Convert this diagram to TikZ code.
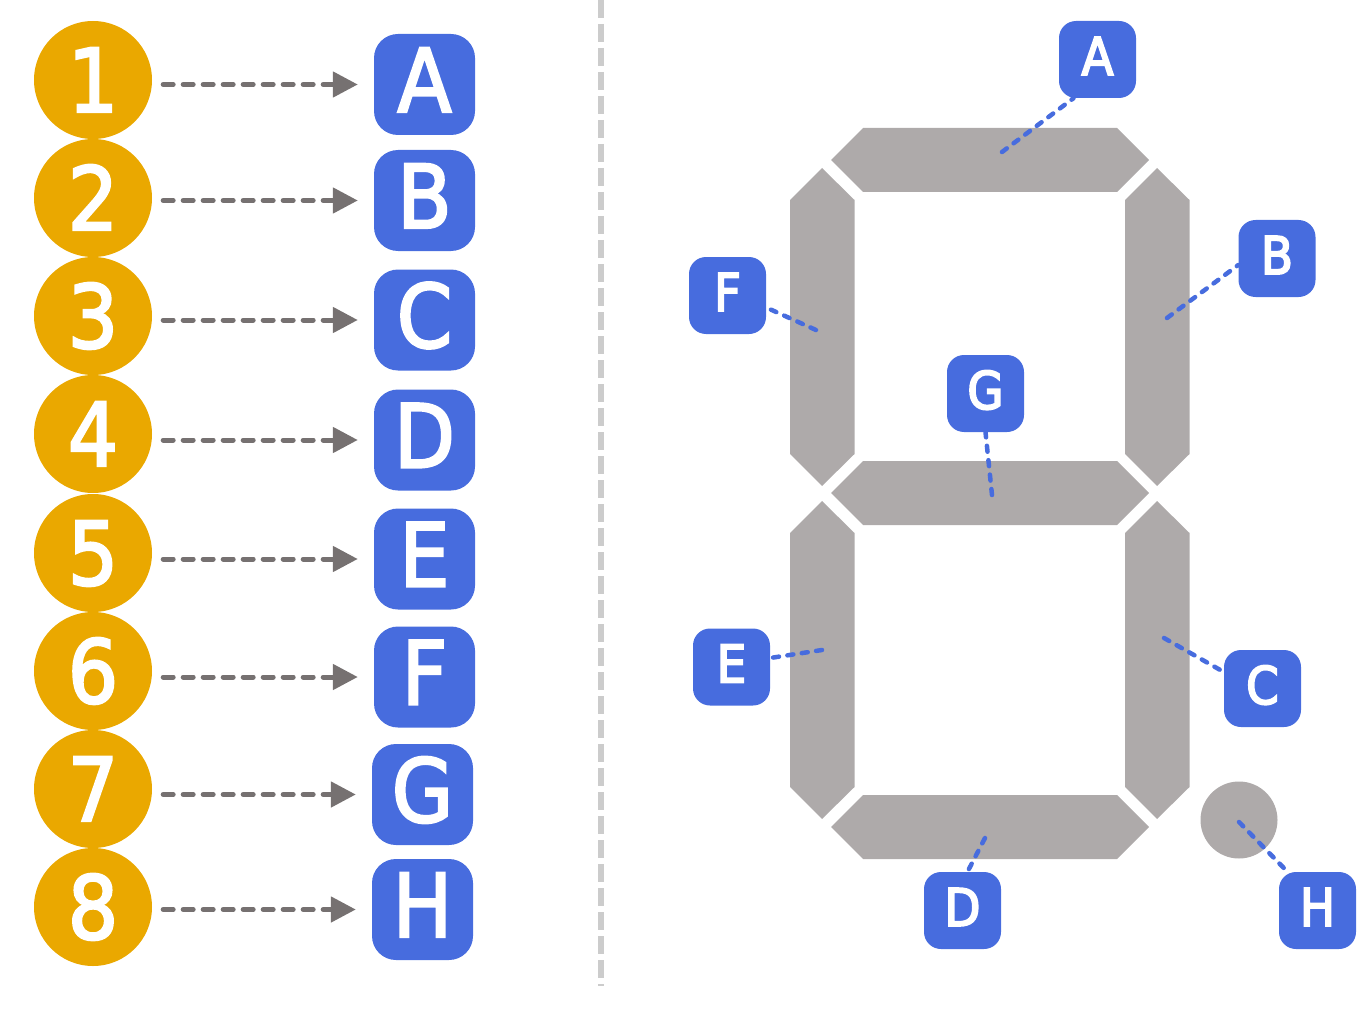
\documentclass[tikz,border=0pt]{standalone}
\usepackage{fontspec}
\newfontfamily\signfont[FakeBold=2.6]{DejaVu Sans Condensed}
\newfontfamily\tagfont[FakeBold=3.4]{DejaVu Sans Condensed}
\usetikzlibrary{arrows.meta}
\definecolor{signorange}{HTML}{EAA800}
\definecolor{signblue}{HTML}{476CDE}
\definecolor{seggray}{HTML}{AEAAAA}
\definecolor{flowgray}{HTML}{767171}
\definecolor{rulegray}{HTML}{CCCCCC}

\begin{document}
\begin{tikzpicture}[x=1pt, y=-1pt]
    \tikzset{num/.style={circle, fill=signorange, text=white, inner sep=0pt, minimum size=118pt,
        text height=64pt, text depth=0pt, font=\signfont\fontsize{88}{88}\selectfont}}
    \tikzset{lab/.style={rectangle, rounded corners=24pt, fill=signblue, text=white, inner sep=0pt,
        minimum width=101pt, minimum height=101pt,
        text height=64pt, text depth=9pt, font=\signfont\fontsize{88}{88}\selectfont}}
    \tikzset{tag/.style={rectangle, rounded corners=17pt, fill=signblue, text=white, inner sep=0pt,
        minimum size=77pt, text height=38pt, text depth=7pt,
        font=\tagfont\fontsize{52}{52}\selectfont}}
    \tikzset{seg/.style={fill=seggray}}
    \tikzset{flow/.style={draw=flowgray, line width=5pt, line cap=round, dash pattern=on 10pt off 10pt,
        shorten <=11pt, shorten >=16pt, yshift=-1pt, -{Triangle[length=25pt, width=25pt]}}}
    \tikzset{lead/.style={draw=signblue, line width=4.5pt, line cap=round, dash pattern=on 6pt off 8.5pt}}
    \useasboundingbox (0,0) rectangle (1368,1011);

    % left column
    \node[num] (num1) at (93,80) {1};
    \node[num] (num2) at (93,198) {2};
    \node[num] (num3) at (93,316) {3};
    \node[num] (num4) at (93,434) {4};
    \node[num] (num5) at (93,553) {5};
    \node[num] (num6) at (93,671) {6};
    \node[num] (num7) at (93,789) {7};
    \node[num] (num8) at (93,907) {8};
    \node[lab] (labA) at (424.5,84.5) {A};
    \node[lab] (labB) at (424.5,200.5) {B};
    \node[lab] (labC) at (424.5,320) {C};
    \node[lab] (labD) at (424.5,440) {D};
    \node[lab] (labE) at (424.5,559) {E};
    \node[lab] (labF) at (424.5,677) {F};
    \node[lab] (labG) at (422.5,794.5) {G};
    \node[lab] (labH) at (422.5,909.5) {H};
    \foreach \n/\l in {1/A, 2/B, 3/C, 4/D, 5/E, 6/F, 7/G, 8/H}
      \draw[flow] (num\n.east |- lab\l.west) -- (lab\l.west);

    % divider
    \coordinate (ruletop) at (601,0);
    \coordinate (rulebot) at (601,986);
    \draw[rulegray, line width=6pt, dash pattern=on 18pt off 6pt] (ruletop) -- (rulebot);

    % segments
    \fill[seg] (863,128) -- (1117,128) -- (1149,160) -- (1117,192) -- (863,192) -- (831,160) -- cycle;
    \fill[seg] (863,461) -- (1117,461) -- (1149,493) -- (1117,525) -- (863,525) -- (831,493) -- cycle;
    \fill[seg] (863,795) -- (1117,795) -- (1149,827) -- (1117,859) -- (863,859) -- (831,827) -- cycle;
    \fill[seg] (822,168) -- (854.5,200) -- (854.5,454) -- (822,486) -- (790,454) -- (790,200) -- cycle;
    \fill[seg] (1157,168) -- (1189.5,200) -- (1189.5,454) -- (1157,486) -- (1125,454) -- (1125,200) -- cycle;
    \fill[seg] (822,501) -- (854.5,533) -- (854.5,787) -- (822,819) -- (790,787) -- (790,533) -- cycle;
    \fill[seg] (1157,501) -- (1189.5,533) -- (1189.5,787) -- (1157,819) -- (1125,787) -- (1125,533) -- cycle;
    \node[circle, seg, minimum size=77pt, inner sep=0pt] (dot) at (1239,820) {};

    % tags
    \node[tag] (tagA) at (1097.5,59.5) {A};
    \node[tag] (tagB) at (1277,258.5) {B};
    \node[tag] (tagC) at (1262.5,688.5) {C};
    \node[tag] (tagD) at (962.5,910.5) {D};
    \node[tag] (tagE) at (731.5,667) {E};
    \node[tag] (tagF) at (727.5,295.5) {F};
    \node[tag] (tagG) at (985.5,393.5) {G};
    \node[tag] (tagH) at (1317.5,910.5) {H};

    \coordinate (endA) at (1002,152);
    \coordinate (endB) at (1167,318);
    \coordinate (endC) at (1164,638);
    \coordinate (endD) at (985,838);
    \coordinate (endE) at (822,650);
    \coordinate (endF) at (816,330);
    \coordinate (endG) at (992,495);
    \coordinate (endH) at (1239,822);
    \draw[lead] (endA) -- ([xshift=-24pt]tagA.south);
    \draw[lead] (endB) -- ([yshift=-6.5pt]tagB.west);
    \draw[lead] (endC) -- ([yshift=16.5pt]tagC.west);
    \draw[lead] (endD) -- ([xshift=5pt]tagD.north);
    \draw[lead] (endE) -- ([yshift=9pt]tagE.east);
    \draw[lead] (endF) -- ([yshift=-12pt]tagF.east);
    \draw[lead] (endG) -- (tagG.south);
    \draw[lead] (endH) -- ([xshift=-30pt]tagH.north);
  \end{tikzpicture}
\end{document}
